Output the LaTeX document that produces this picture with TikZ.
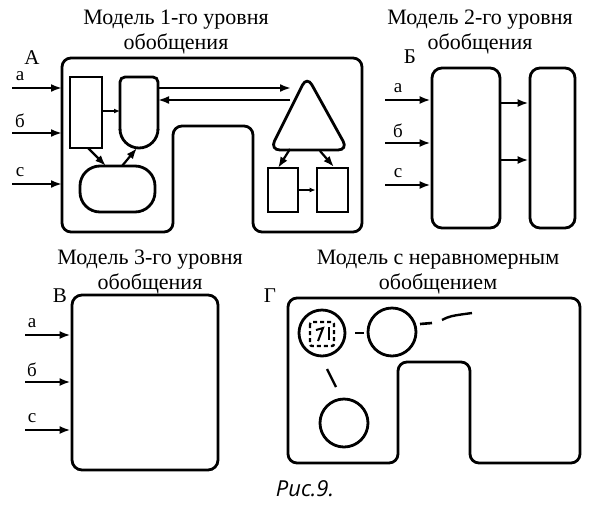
\documentclass[tikz,border=0pt]{standalone}
\usepackage{fontspec}
\setmainfont{Liberation Serif}
\newfontfamily\capfont{Open Sans}
\usetikzlibrary{arrows.meta}
\begin{document}
\begin{tikzpicture}[x=1pt,y=-1pt,
  box/.style={line width=2.8pt,rounded corners=9pt},
  ln/.style={line width=2.2pt,-{Latex[length=11pt,width=8pt]}},
  sh/.style={draw,line width=2.8pt,inner sep=0pt},
  lbl/.style={font=\fontsize{19}{19}\selectfont,inner sep=0pt},
  big/.style={font=\fontsize{21}{21}\selectfont,inner sep=0pt},
  ttl/.style={font=\fontsize{22}{25}\selectfont,align=center,inner sep=0pt}]
\useasboundingbox (0,0) rectangle (610,504);
% titles
\node[ttl] (tA) at (176,32) {Модель 1-го уровня\\обобщения};
\node[ttl] (tB) at (480,32) {Модель 2-го уровня\\обобщения};
\node[ttl] (tC) at (150,272) {Модель 3-го уровня\\обобщения};
\node[ttl] (tD) at (438,272) {Модель с неравномерным\\обобщением};
\node[big] (LA) at (32,58) {А};
\node[big] (LB) at (410,57) {Б};
\node[big] (LC) at (60,296) {В};
\node[big] (LD) at (270,296) {Г};
\node[font=\capfont\itshape\fontsize{22}{22}\selectfont] (cap) at (305,489) {Рис.9.};
% Panel A
\draw[box] (62,58) -- (362,58) -- (362,232) -- (253,232) -- (253,126) -- (173,126) -- (173,232) -- (62,232) -- cycle;
\node[sh,minimum width=32pt,minimum height=71pt] (r1) at (86,112.5) {};
\draw[line width=2.8pt,rounded corners=5pt] (120,130) -- (120,77) -- (158,77) -- (158,130);
\draw[line width=2.8pt] (158,129) arc (0:180:19 and 19);
\node[sh,rounded corners=20pt,minimum width=75pt,minimum height=46pt] (ov) at (117.5,189) {};
\draw[line width=2.8pt,rounded corners=10pt] (307,76) -- (348,150) -- (270,150) -- cycle;
\node[sh,minimum width=30pt,minimum height=44pt] (s1) at (283,190) {};
\node[sh,minimum width=31pt,minimum height=44pt] (s2) at (332.5,190) {};
\foreach \y/\t in {88/а,133/б,184/c}{
  \coordinate (as\y) at (12,\y); \coordinate (ae\y) at (62,\y);
  \draw[ln] (as\y) -- (ae\y);
  \node[lbl] at (20,\y-12) {\t};}
\coordinate (r1r) at (102,111); \coordinate (ul) at (120,111);
\draw[ln,-{Latex[length=6pt,width=5pt]}] (r1r) -- (ul);
\coordinate (ur) at (158,88); \coordinate (tl) at (291,88);
\draw[ln] (ur) -- (tl);
\coordinate (tl2) at (290,100); \coordinate (ur2) at (158,100);
\draw[ln] (tl2) -- (ur2);
\coordinate (p1) at (88,148); \coordinate (p2) at (106,166);
\draw[ln] (p1) -- (p2);
\coordinate (p3) at (122,166); \coordinate (p4) at (137,148);
\draw[ln] (p3) -- (p4);
\coordinate (p5) at (290,149); \coordinate (p6) at (278,168);
\draw[ln] (p5) -- (p6);
\coordinate (p7) at (320,151); \coordinate (p8) at (334,167);
\draw[ln] (p7) -- (p8);
\draw[ln,-{Latex[length=6pt,width=5pt]}] (s1.east|-0,190) -- (s2.west|-0,190);
% Panel B
\node[sh,rounded corners=10pt,minimum width=68pt,minimum height=160pt] (b1) at (466,148) {};
\node[sh,rounded corners=10pt,minimum width=45pt,minimum height=160pt] (b2) at (552.5,148) {};
\foreach \y/\t in {100/а,143/б,185/c}{
  \coordinate (bs\y) at (385,\y);
  \draw[ln] (bs\y) -- (b1.west|-bs\y);
  \node[lbl] at (398,\y-12) {\t};}
\foreach \y in {103,160}{
  \coordinate (bm\y) at (500,\y);
  \draw[ln] (bm\y) -- (b2.west|-bm\y);}
% Panel C
\node[sh,rounded corners=10pt,minimum width=146pt,minimum height=175pt] (c1) at (145,382.5) {};
\foreach \y/\t in {335/а,382/б,430/c}{
  \coordinate (cs\y) at (25,\y);
  \draw[ln] (cs\y) -- (c1.west|-cs\y);
  \node[lbl] at (32,\y-12) {\t};}
% Panel D
\draw[box] (288,298) -- (580,298) -- (580,463) -- (470,463) -- (470,362) -- (398,362) -- (398,463) -- (288,463) -- cycle;
\node[sh,circle,minimum size=46pt] (d1) at (322,333) {};
\node[sh,circle,minimum size=48pt] (d2) at (392,332) {};
\node[sh,circle,minimum size=48pt] (d3) at (344,423) {};
\draw[line width=2.4pt,dash pattern=on 4pt off 3pt,rounded corners=2pt] (310,322) rectangle (334,346);
\draw[line width=2pt] (316,330) -- (323,328) -- (318,341);
\draw[line width=2pt] (329,327) -- (329,340);
\draw[line width=2.6pt] (355,333) -- (364,333);
\draw[line width=2.6pt] (420,324) -- (432,323);
\draw[line width=2.4pt] (442,320) .. controls (450,316) .. (472,313);
\draw[line width=2.4pt] (327,369) -- (336,387);
\end{tikzpicture}
\end{document}
